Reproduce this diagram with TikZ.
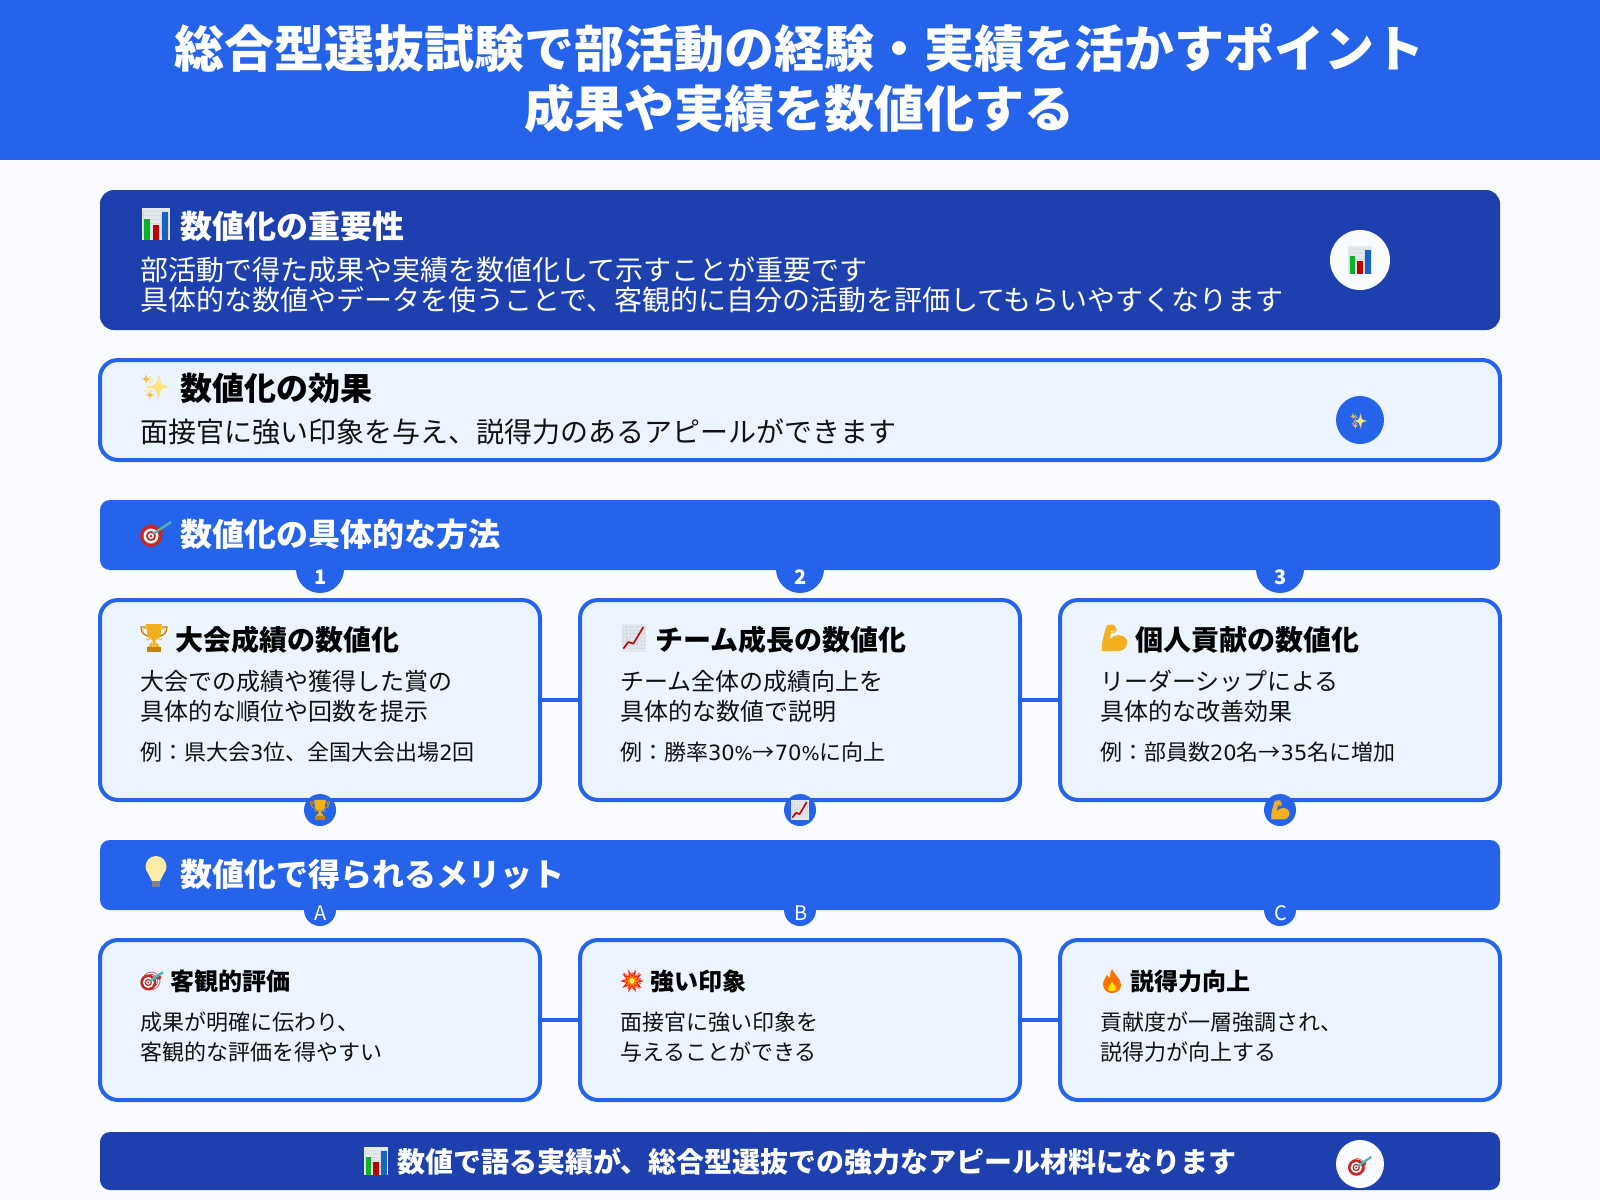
\documentclass[tikz,border=0pt]{standalone}
\usepackage{fontspec}
\setmainfont{Noto Sans CJK JP}
\newfontfamily\emojifont{Noto Emoji}
\newfontfamily\digitfont{DejaVu Sans}
\definecolor{mainblue}{HTML}{2563EB}
\definecolor{darkblue}{HTML}{1E40AF}
\definecolor{paleblue}{HTML}{EBF4FF}
\definecolor{pagebg}{HTML}{F9FBFE}
\definecolor{inkblack}{HTML}{111111}
\definecolor{goldtone}{HTML}{F2B01E}
\definecolor{golddark}{HTML}{C4820E}
\definecolor{redtone}{HTML}{C62828}
\definecolor{panelgray}{HTML}{E4E9EF}
\definecolor{gridgray}{HTML}{CBD3DC}
\definecolor{tealtone}{HTML}{4DB6AC}
\definecolor{bargreen}{HTML}{0DB02B}
\definecolor{barred}{HTML}{C00000}
\definecolor{barblue}{HTML}{1565C0}
\definecolor{bulbtone}{HTML}{FDEBA8}
\definecolor{sparkpale}{HTML}{FFE27A}
\definecolor{sparkdeep}{HTML}{F9BE3C}
\newcommand{\fsz}[2]{\fontsize{#1}{#2}\selectfont}
\newcommand{\dg}[1]{{\digitfont\fsz{21}{30}#1}}
\newcommand{\pct}{{\digitfont\fsz{19}{30}\%}}
\tikzset{
  txt/.style={inner sep=0pt, outer sep=0pt},
  ico/.style={txt, font=\emojifont\fsz{#1}{#1}},
  bandbox/.style={fill=mainblue, rounded corners=10pt, minimum width=1400pt, minimum height=70pt, txt},
  darkbox/.style={fill=darkblue, rounded corners=14pt, minimum width=1400pt, txt},
  cardbox/.style={draw=mainblue, line width=4pt, fill=paleblue, rounded corners=18pt, minimum width=440pt, inner sep=0pt, outer sep=0pt},
  joinline/.style={draw=mainblue, line width=4pt},
  dot/.style={circle, fill=mainblue, minimum size=#1, txt},
  % dibujos de color sobre cada emoji
  panelback/.pic={\fill[panelgray] (-14,-16) rectangle (14,16);},
  chartback/.pic={\fill[panelgray] (-12,-14) rectangle (12,14);},
  blankback/.pic={},
  barsfill/.pic={
    \fill[bargreen] (-12,-5) rectangle (-6,16);
    \fill[barred] (-3.3,1) rectangle (3,16);
    \fill[barblue] (6,-12) rectangle (12.3,16);
  },
  linefill/.pic={
    \draw[barred, line width=1.6pt, line join=round] (-10.6,10.6) -- (-5.6,4) -- (-0.6,5.6) -- (9.3,-11);
  },
  sparkfill/.pic={
    \fill[sparkpale] (2,-14) .. controls (3,-2.5) and (3.5,-1) .. (15,0) .. controls (3.5,1) and (3,2.5) .. (2,14) .. controls (1,2.5) and (0.5,1) .. (-11,0) .. controls (0.5,-1) and (1,-2.5) .. (2,-14) -- cycle;
    \fill[sparkdeep] (-10,-14) .. controls (-9.5,-9) and (-9,-8.5) .. (-5,-8) .. controls (-9,-7.5) and (-9.5,-7) .. (-10,-2) .. controls (-10.5,-7) and (-11,-7.5) .. (-15,-8) .. controls (-11,-8.5) and (-10.5,-9) .. (-10,-14) -- cycle;
    \fill[sparkdeep] (-6,3) .. controls (-5.5,7) and (-5,7.5) .. (-1,8) .. controls (-5,8.5) and (-5.5,9) .. (-6,13) .. controls (-6.5,9) and (-7,8.5) .. (-11,8) .. controls (-7,7.5) and (-6.5,7) .. (-6,3) -- cycle;
  },
  targetfill/.pic={
    \fill[redtone] (-5,2) circle (11);
    \fill[white] (-5,2) circle (7.5);
    \fill[redtone] (-5,2) circle (5);
    \fill[white] (-5,2) circle (3);
    \fill[redtone] (-5,2) circle (1.5);
    \draw[tealtone, line width=2.4pt] (-3,0) -- (15,-12);
  },
  cupfill/.pic={
    \draw[golddark, line width=1.2pt] (-8,-11) -- (-13,-11) .. controls (-13,-5) and (-10,-3) .. (-6,-2);
    \draw[golddark, line width=1.2pt] (8,-11) -- (13,-11) .. controls (13,-5) and (10,-3) .. (6,-2);
    \fill[goldtone] (-8,-14) -- (8,-14) -- (6.5,-3) -- (2,1) -- (-2,1) -- (-6.5,-3) -- cycle;
    \fill[goldtone] (-1.2,1) rectangle (1.2,9);
    \fill[golddark] (-7,9) rectangle (7,14);
  },
  armfill/.pic={
    \fill[goldtone] (-7,-13) -- (0,-13.5) -- (2,-8) -- (-3,-7) -- (-4.5,2) .. controls (0,-4) and (9,-5) .. (13,2) .. controls (14,9) and (10,13) .. (4,13) -- (-12,13) .. controls (-13,6) and (-10,-4) .. (-7,-13) -- cycle;
  },
  bulbfill/.pic={
    \fill[bulbtone] (0,-5.5) circle (10.5);
    \fill[bulbtone] (-8,1) -- (8,1) -- (4,9) -- (-4,9) -- cycle;
    \fill[gray] (-4,9) rectangle (4,15);
  },
  blastfill/.pic={
    \fill[red!85!orange] plot[samples at={0,18,...,342}] (\x:{mod(\x,36)==0 ? 12:5.5}) -- cycle;
    \fill[orange] plot[samples at={18,36,...,360}] (\x:{mod(\x,36)==0 ? 8:4}) -- cycle;
    \fill[yellow!70!white] (0,0) circle (2.6);
  },
  flamefill/.pic={
    \fill[orange!90!red] (0,-12) .. controls (2,-6) and (9,-3) .. (9,4) .. controls (9,9) and (5,12) .. (0,12) .. controls (-5,12) and (-9,9) .. (-9,3) .. controls (-9,-1) and (-6,-3) .. (-5,-6) .. controls (-3,-4) and (-3,-3) .. (-2,-3) .. controls (-2,-7) and (-1,-10) .. (0,-12) -- cycle;
    \fill[yellow!80!orange] (0,1) .. controls (1,4) and (5,5) .. (4,8) .. controls (3.5,11) and (-3.5,11) .. (-4,8) .. controls (-4.5,5) and (-1,4) .. (0,1) -- cycle;
  }
}
\begin{document}
\begin{tikzpicture}[x=1pt, y=-1pt]
  \useasboundingbox (0,0) rectangle (1600,1200);
  \fill[pagebg] (0,0) rectangle (1600,1200);

  % Cabecera
  \fill[mainblue] (0,0) rectangle (1600,160);
  \node[txt, text=white, align=center, font=\bfseries\fsz{50}{60}] (title) at (799,78.5) {総合型選抜試験で部活動の経験・実績を活かすポイント\\成果や実績を数値化する};

  % Recuadro oscuro
  \node[darkbox, minimum height=140pt] (impbox) at (800,260) {};
  \pic at (156,224) {panelback};
  \node[ico=25, text=gridgray] (impico) at (156,224) {📊};
  \pic at (156,224) {barsfill};
  \node[txt, text=white, anchor=base west, font=\bfseries\fsz{32}{32}] (imphead) at (180,238) {数値化の重要性};
  \node[txt, text=white, anchor=base west, font=\fsz{28}{30}] (impbodya) at (140,280) {部活動で得た成果や実績を数値化して示すことが重要です};
  \node[txt, text=white, anchor=base west, font=\fsz{28}{30}] (impbodyb) at (140,310) {具体的な数値やデータを使うことで、客観的に自分の活動を評価してもらいやすくなります};
  \node[dot=60pt, fill=pagebg] (impdot) at (1360,260) {};
  \pic[scale=.857] at (impdot) {panelback};
  \node[ico=21, text=gridgray] (impdotico) at (impdot) {📊};
  \pic[scale=.857] at (impdot) {barsfill};

  % Recuadro claro
  \node[cardbox, minimum width=1400pt, minimum height=100pt] (effbox) at (800,410) {};
  \node[ico=20, text=sparkpale] (effico) at (156,387) {✨};
  \pic at (156,387) {sparkfill};
  \node[txt, text=black, anchor=base west, font=\bfseries\fsz{32}{32}] (effhead) at (180,400) {数値化の効果};
  \node[txt, text=inkblack, anchor=base west, font=\fsz{28}{30}] (effbody) at (140,442) {面接官に強い印象を与え、説得力のあるアピールができます};
  \node[dot=48pt] (effdot) at (1360,420) {};
  \node[ico=12, text=sparkpale] (effdotico) at (1359,421) {✨};
  \pic[scale=.6] at (1359,421) {sparkfill};

  % Primera banda
  \node[bandbox] (bandm) at (800,535) {};
  \node[ico=22, text=redtone] (bandmico) at (152,536) {🎯};
  \pic at (156,534) {targetfill};
  \node[txt, text=white, anchor=base west, font=\bfseries\fsz{32}{32}] (bandmhead) at (180,546) {数値化の具体的な方法};

  % Tarjetas de metodos
  \foreach \n/\x/\tcol/\ttl/\ema/\back/\art/\bodya/\bodyb/\sample in {
      1/320/goldtone/大会成績の数値化/🏆/blankback/cupfill/大会での成績や獲得した賞の/具体的な順位や回数を提示/例：県大会\dg{3}位、全国大会出場\dg{2}回,
      2/800/gridgray/チーム成長の数値化/📈/chartback/linefill/チーム全体の成績向上を/具体的な数値で説明/例：勝率\dg{30}\pct→\dg{70}\pct に向上,
      3/1280/goldtone/個人貢献の数値化/💪/blankback/armfill/リーダーシップによる/具体的な改善効果/例：部員数\dg{20}名→\dg{35}名に増加} {
    \node[dot=48pt] (num\n) at (\x,569) {};
    \node[txt, text=white, font=\bfseries\fsz{20}{20}] (numtxt\n) at (\x+1,577) {\n};
    \node[cardbox, minimum height=200pt] (card\n) at (\x,700) {};
    \pic at (\x-166,638) {\back};
    \node[ico=22, text=\tcol] (cardico\n) at (\x-166,638) {\ema};
    \pic at (\x-166,638) {\art};
    \node[txt, text=black, anchor=base west, font=\bfseries\fsz{28}{28}] (cardhead\n) at (\x-145,650) {\ttl};
    \node[txt, text=inkblack, anchor=base west, font=\fsz{24}{30}] (carda\n) at (\x-180,690) {\bodya};
    \node[txt, text=inkblack, anchor=base west, font=\fsz{24}{30}] (cardb\n) at (\x-180,720) {\bodyb};
    \node[txt, text=inkblack, anchor=base west, font=\fsz{22}{30}] (cardc\n) at (\x-180,760) {\sample};
    \node[dot=32pt] (tag\n) at (\x,810) {};
    \pic[scale=.72] at (tag\n) {\back};
    \node[ico=16, text=\tcol] (tagico\n) at (tag\n) {\ema};
    \pic[scale=.72] at (tag\n) {\art};
  }
  \draw[joinline] (card1) -- (card2);
  \draw[joinline] (card2) -- (card3);

  % Segunda banda
  \node[bandbox] (bandb) at (800,875) {};
  \node[ico=22, text=bulbtone] (bandbico) at (156,872) {💡};
  \pic at (156,872) {bulbfill};
  \node[txt, text=white, anchor=base west, font=\bfseries\fsz{32}{32}] (bandbhead) at (180,886) {数値化で得られるメリット};

  % Tarjetas de meritos
  \foreach \n/\l/\x/\tcol/\ttl/\ema/\art/\artx/\arts/\bodya/\bodyb in {
      4/A/320/redtone/客観的評価/🎯/targetfill/168/.73/成果が明確に伝わり、/客観的な評価を得やすい,
      5/B/800/red!85!orange/強い印象/💥/blastfill/168/1/面接官に強い印象を/与えることができる,
      6/C/1280/orange!90!red/説得力向上/🔥/flamefill/168/1/貢献度が一層強調され、/説得力が向上する} {
    \node[dot=32pt] (num\n) at (\x,910) {};
    \node[txt, text=white, font=\fsz{20}{20}] (numtxt\n) at (\x+1,913) {\l};
    \node[cardbox, minimum height=160pt] (card\n) at (\x,1020) {};
    \node[ico=18, text=\tcol] (cardico\n) at (\x-\artx,981) {\ema};
    \pic[scale=\arts] at (\x-\artx,981) {\art};
    \node[txt, text=black, anchor=base west, font=\bfseries\fsz{24}{24}] (cardhead\n) at (\x-150,990) {\ttl};
    \node[txt, text=inkblack, anchor=base west, font=\fsz{22}{30}] (carda\n) at (\x-180,1030) {\bodya};
    \node[txt, text=inkblack, anchor=base west, font=\fsz{22}{30}] (cardb\n) at (\x-180,1060) {\bodyb};
  }
  \draw[joinline] (card4) -- (card5);
  \draw[joinline] (card5) -- (card6);

  % Barra final
  \node[darkbox, rounded corners=10pt, minimum height=58pt] (footbox) at (800,1161) {};
  \pic[scale=.857] at (376,1161) {panelback};
  \node[ico=21, text=gridgray] (footico) at (376,1161) {📊};
  \pic[scale=.857] at (376,1161) {barsfill};
  \node[txt, text=white, anchor=base west, font=\bfseries\fsz{28}{28}] (foottxt) at (397,1172) {数値で語る実績が、総合型選抜での強力なアピール材料になります};
  \node[dot=48pt, fill=pagebg] (footdot) at (1360,1164) {};
  \node[ico=16, text=redtone] (footdotico) at (1358,1167) {🎯};
  \pic[scale=.75] at (1360,1166) {targetfill};
\end{tikzpicture}
\end{document}
